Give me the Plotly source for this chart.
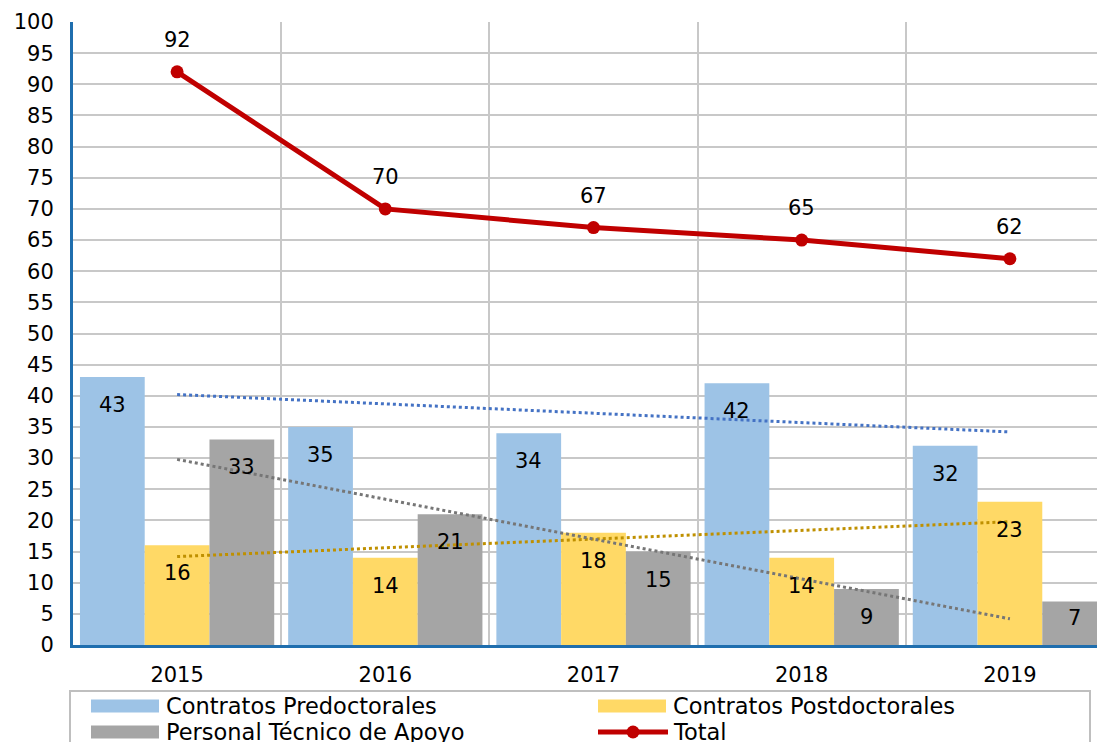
import plotly.graph_objects as go

years = ["2015", "2016", "2017", "2018", "2019"]
predoc = [43, 35, 34, 42, 32]
postdoc = [16, 14, 18, 14, 23]
tecnico = [33, 21, 15, 9, 7]
total = [92, 70, 67, 65, 62]

# trend line end points (2015 -> 2019) as drawn in the chart
predoc_trend = [40.2, 34.2]
postdoc_trend = [14.2, 19.8]
tecnico_trend = [29.8, 4.2]

names = ["Contratos Predoctorales", "Contratos Postdoctorales", "Personal Técnico de Apoyo", "Total"]
colors = ["#9DC3E6", "#FFD966", "#A5A5A5", "#C00000"]
trend_colors = ["#4472C4", "#BF9000", "#767676"]

FONT = "DejaVu Sans"
# the page body adds an 8px offset, so the figure is drawn 8px smaller
OFF = 8
W, H = 1105 - OFF, 742 - OFF
ML, MR, MT, MB = 65, 0, 14, 97
PW, PH = W - ML - MR, H - MT - MB
PX_PER_UNIT = PH / 100.0

x = list(range(len(years)))
fig = go.Figure()

series = [predoc, postdoc, tecnico]
for s, vals in enumerate(series):
    fig.add_trace(go.Bar(x=x, y=vals, name=names[s], marker=dict(color=colors[s], line=dict(width=0)),
                         showlegend=False))

for s, tr in enumerate([predoc_trend, postdoc_trend, tecnico_trend]):
    fig.add_trace(go.Scatter(x=[x[0], x[-1]], y=tr, mode="lines", showlegend=False,
                             line=dict(color=trend_colors[s], width=3, dash="dot")))

fig.add_trace(go.Scatter(x=x, y=total, mode="lines+markers", name=names[3], showlegend=False,
                         line=dict(color=colors[3], width=5),
                         marker=dict(color=colors[3], size=13)))

bargap = 0.067
bw = (1 - bargap) / 3
annotations = []
for s, vals in enumerate(series):
    for i, v in enumerate(vals):
        hpx = v * PX_PER_UNIT
        shift = -min(28, hpx - 27)
        annotations.append(dict(x=i + (s - 1) * bw, y=v, text=str(v), showarrow=False,
                                yshift=shift, font=dict(size=21, color="black", family=FONT)))
for i, v in enumerate(total):
    annotations.append(dict(x=i, y=v, text=str(v), showarrow=False, yshift=32,
                            font=dict(size=21, color="black", family=FONT)))


# screen pixel -> paper coords
def px(xx):
    return (xx - OFF - ML) / PW


def py(yy):
    return (H - MB - (yy - OFF)) / PH


shapes = []
# legend box
shapes.append(dict(type="rect", xref="paper", yref="paper", x0=px(70), x1=px(1090), y0=py(760), y1=py(691),
                   line=dict(color="#BFBFBF", width=2), fillcolor="white", layer="above"))
legend_items = [(0, 91, 706), (1, 598, 706), (2, 91, 732), (3, 598, 732)]
for k, lx, ly in legend_items:
    if k < 3:
        shapes.append(dict(type="rect", xref="paper", yref="paper", x0=px(lx), x1=px(lx + 68),
                           y0=py(ly + 6.5), y1=py(ly - 6.5), line=dict(width=0), fillcolor=colors[k],
                           layer="above"))
    else:
        shapes.append(dict(type="line", xref="paper", yref="paper", x0=px(lx), x1=px(lx + 70),
                           y0=py(ly), y1=py(ly), line=dict(color=colors[3], width=5), layer="above"))
        shapes.append(dict(type="circle", xref="paper", yref="paper", x0=px(lx + 35 - 6.5), x1=px(lx + 35 + 6.5),
                           y0=py(ly + 6.5), y1=py(ly - 6.5), line=dict(width=0), fillcolor=colors[3],
                           layer="above"))
    annotations.append(dict(xref="paper", yref="paper", x=px(lx + 73), y=py(ly), text=names[k],
                            showarrow=False, xanchor="left", yanchor="middle",
                            font=dict(size=22.5, color="black", family=FONT)))

fig.update_layout(
    width=W, height=H, autosize=False,
    margin=dict(l=ML, r=MR, t=MT, b=MB, pad=0),
    paper_bgcolor="white", plot_bgcolor="white",
    barmode="group", bargap=bargap, bargroupgap=0,
    font=dict(family=FONT, size=21, color="black"),
    annotations=annotations, shapes=shapes,
    showlegend=False,
    xaxis=dict(range=[-0.5, -0.5 + PW / ((PW + 9) / 5)], tickvals=x, ticktext=years,
               showgrid=False, zeroline=False, showline=True, linecolor="#1F6EAE", linewidth=3,
               ticks="", ticklabelstandoff=9, tickfont=dict(size=21), automargin=False,
               minor=dict(tickvals=[0.5, 1.5, 2.5, 3.5], showgrid=True, gridcolor="#C8C8C8", gridwidth=2, ticks="")),
    yaxis=dict(range=[0, 100], dtick=5, showgrid=True, gridcolor="#C8C8C8", gridwidth=2,
               zeroline=False, showline=True, linecolor="#1F6EAE", linewidth=3,
               ticks="", ticklabelstandoff=12, tickfont=dict(size=21), automargin=False),
)

fig.write_html("out.html")
